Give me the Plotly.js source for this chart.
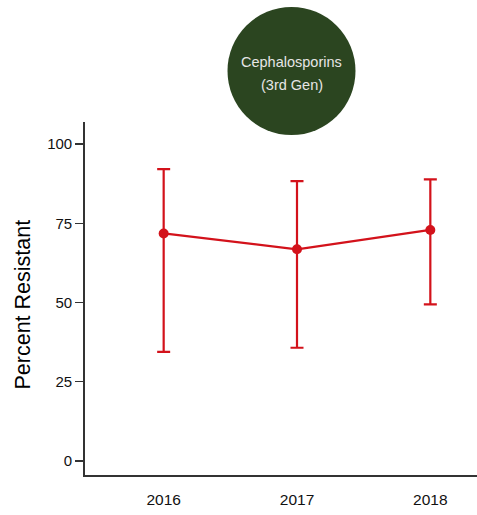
<!DOCTYPE html>
<html>
<head>
<meta charset="utf-8">
<script src="https://cdn.plot.ly/plotly-3.0.1.min.js"></script>
<style>html,body{margin:0;padding:0;background:#fff;}#chart{width:477px;height:515px;}</style>
</head>
<body>
<div id="chart"></div>
<script>
const years = ['2016', '2017', '2018'];
const percentResistant = [71.8, 66.8, 72.9];
const upperCI = [92.1, 88.3, 88.9];
const lowerCI = [34.4, 35.7, 49.4];
const yTicks = [0, 25, 50, 75, 100];
const drugClass = ['Cephalosporins', '(3rd Gen)'];
const yTitle = 'Percent Resistant';

const errPlus = percentResistant.map((v, i) => upperCI[i] - v);
const errMinus = percentResistant.map((v, i) => v - lowerCI[i]);

const red = '#d3121b';
const trace = {
  x: years,
  y: percentResistant,
  type: 'scatter',
  mode: 'lines+markers',
  line: {color: red, width: 2.2},
  marker: {color: red, size: 10},
  error_y: {type: 'data', symmetric: false, array: errPlus, arrayminus: errMinus,
            color: red, thickness: 2.2, width: 6.5},
  hoverinfo: 'skip'
};

const fontFam = 'Liberation Sans, Arial, Helvetica, sans-serif';
const cx = (291.5 - 85) / 392;
const layout = {
  width: 477, height: 515,
  margin: {l: 85, r: 0, t: 122, b: 40},
  paper_bgcolor: '#fff', plot_bgcolor: '#fff',
  showlegend: false,
  font: {family: fontFam, color: '#111'},
  xaxis: {
    type: 'category', range: [-0.59, 2.35],
    showgrid: false, zeroline: false, showline: true, linecolor: '#333', linewidth: 1.8,
    ticks: '', tickfont: {size: 15.5, color: '#111'}, ticklabelstandoff: 10
  },
  yaxis: {
    range: [-4.5, 107], tickvals: yTicks, ticktext: yTicks.map(String),
    showgrid: false, zeroline: false, showline: true, linecolor: '#333', linewidth: 1.8,
    ticks: 'outside', ticklen: 8, tickwidth: 1.5, tickcolor: '#333',
    tickfont: {size: 15, color: '#111'}
  },
  shapes: [{
    type: 'circle', xref: 'paper', yref: 'paper',
    xsizemode: 'pixel', ysizemode: 'pixel',
    xanchor: cx, yanchor: (475 - 71) / 353,
    x0: -64, x1: 64, y0: -64, y1: 64,
    fillcolor: '#2b4520', line: {width: 0}
  }],
  annotations: [
    {text: drugClass[0], xref: 'paper', yref: 'paper', x: cx, y: (475 - 62) / 353,
     xanchor: 'center', yanchor: 'middle', showarrow: false, font: {size: 14.5, color: '#e6e6e6'}},
    {text: drugClass[1], xref: 'paper', yref: 'paper', x: cx, y: (475 - 85.5) / 353,
     xanchor: 'center', yanchor: 'middle', showarrow: false, font: {size: 14.5, color: '#e6e6e6'}},
    {text: yTitle, xref: 'paper', yref: 'paper', x: (22.5 - 85) / 392, y: (475 - 305) / 353,
     xanchor: 'center', yanchor: 'middle', textangle: -90, showarrow: false,
     font: {size: 21.5, color: '#000'}}
  ]
};

Plotly.newPlot('chart', [trace], layout, {displayModeBar: false, staticPlot: true});
</script>
</body>
</html>
